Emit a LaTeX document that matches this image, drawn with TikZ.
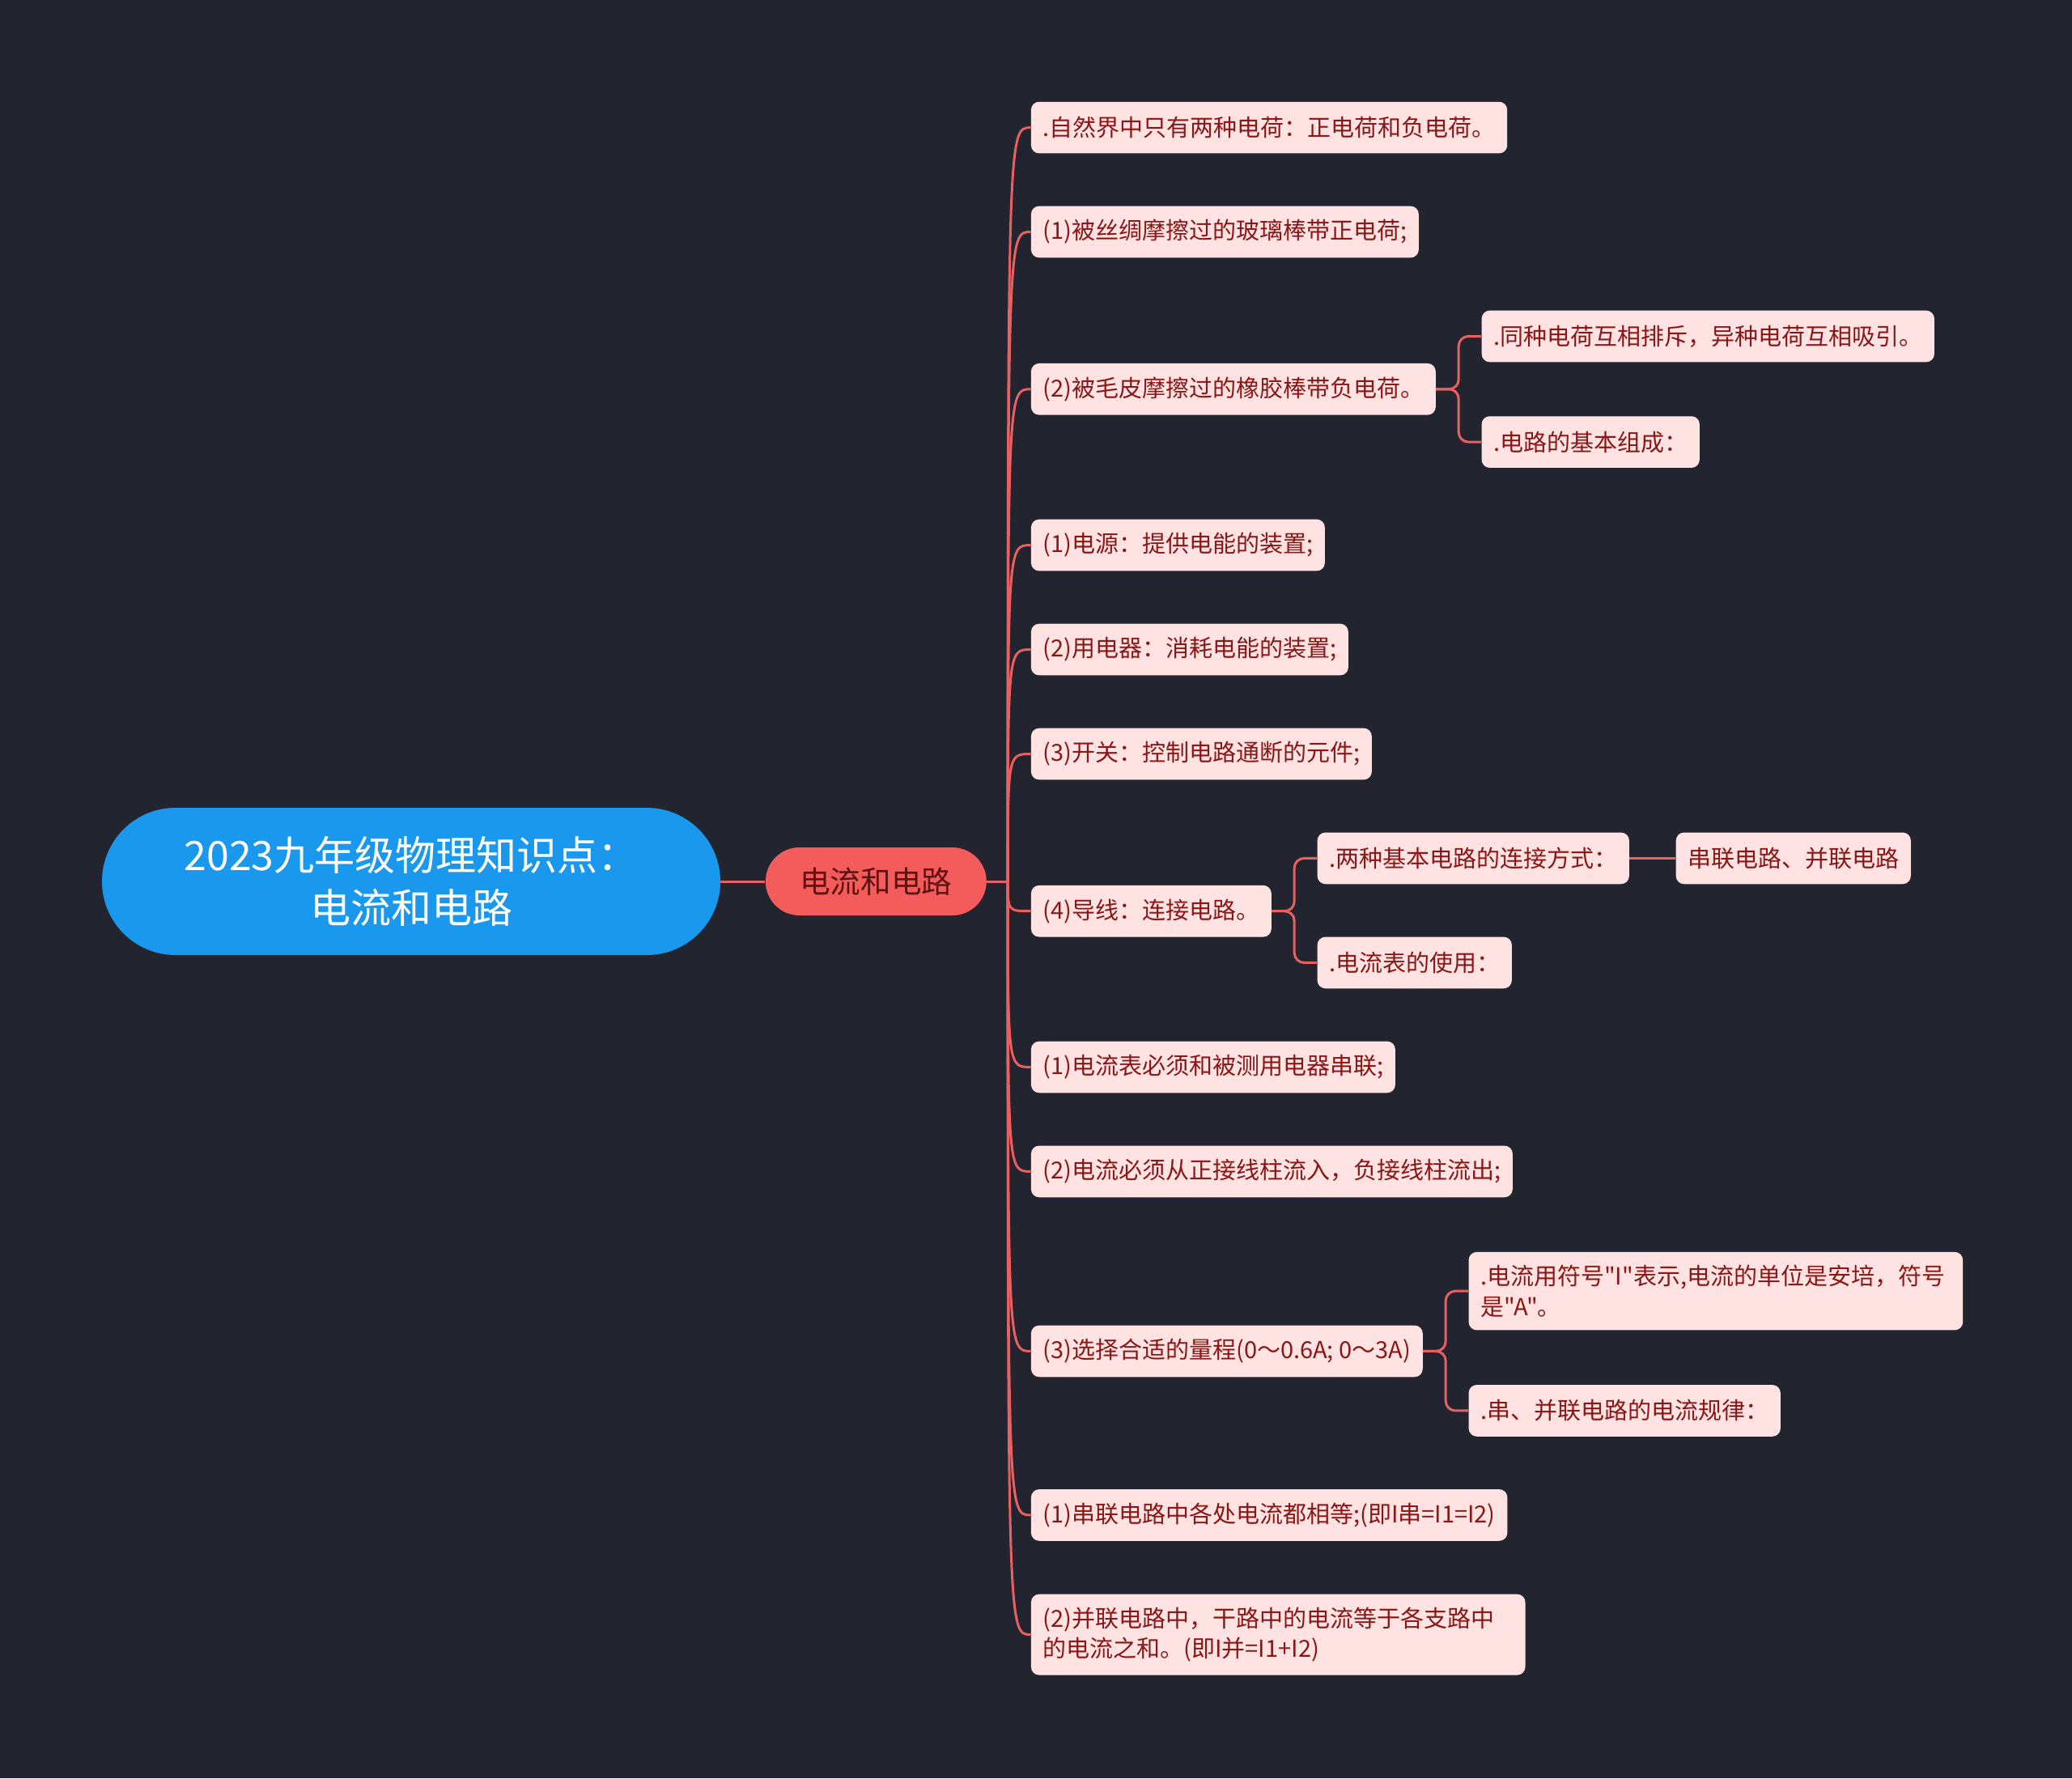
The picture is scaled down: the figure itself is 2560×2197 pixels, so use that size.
\documentclass[tikz,border=0pt]{standalone}
\usepackage{fontspec}
\setmainfont{Noto Sans CJK SC}
\newfontfamily\cnfont{Noto Sans CJK SC}
\usepackage{tikz}
\usetikzlibrary{positioning, calc}
\definecolor{bgdark}{HTML}{222530}
\definecolor{rootblue}{HTML}{1A98EE}
\definecolor{mainred}{HTML}{F45B5B}
\definecolor{maintext}{HTML}{5E1212}
\definecolor{leafpink}{HTML}{FFE3E3}
\definecolor{leaftext}{HTML}{8A1616}
\definecolor{linered}{HTML}{E8605F}

\tikzset{
  rootnode/.style={fill=rootblue, text=white, rounded corners=45.5pt, minimum width=382pt, minimum height=91pt, align=center, font=\cnfont\fontsize{25}{32.7}\selectfont},
  mainnode/.style={fill=mainred, text=maintext, rounded corners=21pt, minimum width=136.5pt, minimum height=42pt, font=\cnfont\fontsize{18.8}{22}\selectfont},
  leaf/.style={fill=leafpink, text=leaftext, rounded corners=5pt, inner xsep=7.3pt, inner ysep=8pt, minimum height=31.85pt, align=left, font=\cnfont\fontsize{14.5}{18.8}\selectfont},
  wideleaf/.style={leaf, text width=290.7pt},
  branch/.style={draw=linered, line width=1.5pt},
}

\begin{document}
\begin{tikzpicture}[x=0.5pt, y=-0.5pt]
    \fill[bgdark] (0,0) rectangle (2560,2197);
    % centre
    \node[rootnode] (root) at (508,1089) {2023九年级物理知识点：\\电流和电路};
    \node[mainnode, right=27.5pt of root] (main) {电流和电路};
    \draw[branch] (root.east) -- (main.west);
    \coordinate[right=13pt of main] (jn);
    \draw[branch] (main.east) -- (jn);

    % first level
    \node[leaf, anchor=west] (c1) at (1273.5,157.6) {.自然界中只有两种电荷：正电荷和负电荷。};
    \node[leaf, anchor=west] (c2) at (1273.5,286.5) {(1)被丝绸摩擦过的玻璃棒带正电荷;};
    \node[leaf, anchor=west] (c3) at (1273.5,480.8) {(2)被毛皮摩擦过的橡胶棒带负电荷。};
    \node[leaf, anchor=west] (c4) at (1273.5,673.5) {(1)电源：提供电能的装置;};
    \node[leaf, anchor=west] (c5) at (1273.5,802.5) {(2)用电器：消耗电能的装置;};
    \node[leaf, anchor=west] (c6) at (1273.5,931.5) {(3)开关：控制电路通断的元件;};
    \node[leaf, anchor=west] (c7) at (1273.5,1125.7) {(4)导线：连接电路。};
    \node[leaf, anchor=west] (c8) at (1273.5,1318.4) {(1)电流表必须和被测用电器串联;};
    \node[leaf, anchor=west] (c9) at (1273.5,1447.4) {(2)电流必须从正接线柱流入，负接线柱流出;};
    \node[leaf, anchor=west] (c10) at (1273.5,1669.4) {(3)选择合适的量程(0～0.6A; 0～3A)};
    \node[leaf, anchor=west] (c11) at (1273.5,1871.9) {(1)串联电路中各处电流都相等;(即I串=I1=I2)};
    \node[wideleaf, anchor=west] (c12) at (1273.5,2019.6) {(2)并联电路中，干路中的电流等于各支路中\\的电流之和。(即I并=I1+I2)};
    \foreach \i in {1,...,12}
        \draw[branch] (jn) .. controls (jn |- c\i.west) .. (c\i.west);

    % second level
    \node[leaf, right=28pt of c3, yshift=32.65pt] (c3a) {.同种电荷互相排斥，异种电荷互相吸引。};
    \node[leaf, right=28pt of c3, yshift=-32.65pt] (c3b) {.电路的基本组成：};
    \node[leaf, right=28pt of c7, yshift=32.65pt] (c7a) {.两种基本电路的连接方式：};
    \node[leaf, right=28pt of c7, yshift=-31.85pt] (c7b) {.电流表的使用：};
    \node[leaf, right=28.5pt of c7a] (c7a1) {串联电路、并联电路};
    \node[wideleaf, right=28pt of c10, yshift=37.15pt] (c10a) {.电流用符号"I"表示,电流的单位是安培，符号\\是"A"。};
    \node[leaf, right=28pt of c10, yshift=-36.75pt] (c10b) {.串、并联电路的电流规律：};
    \foreach \p/\c in {c3/c3a, c3/c3b, c7/c7a, c7/c7b, c10/c10a, c10/c10b}
        \draw[branch, rounded corners=6pt] (\p.east) -- ++(14pt,0) |- (\c.west);
    \draw[branch] (c7a.east) -- (c7a1.west);
\end{tikzpicture}
\end{document}
